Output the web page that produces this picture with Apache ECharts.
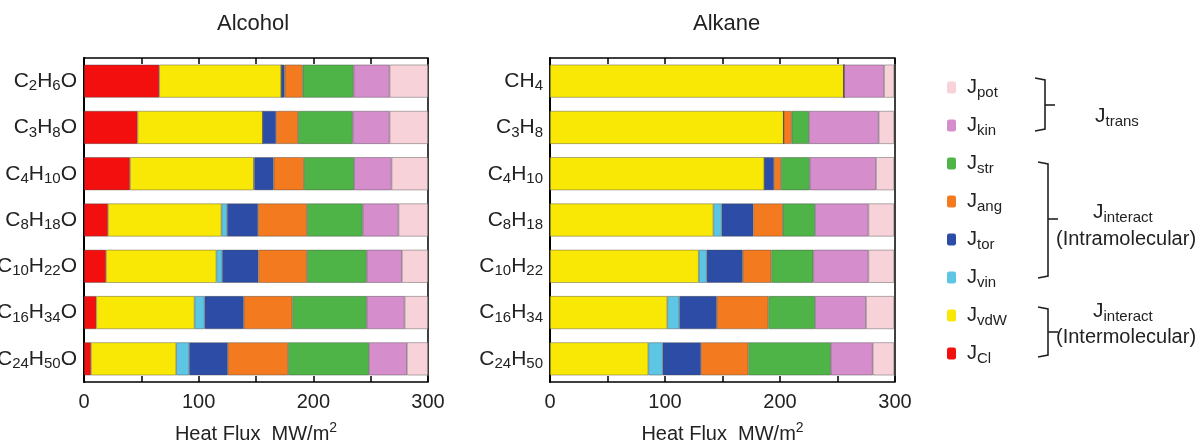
<!DOCTYPE html>
<html><head><meta charset="utf-8">
<script src="https://cdn.jsdelivr.net/npm/echarts@6/dist/echarts.min.js"></script>
<style>html,body{margin:0;padding:0;background:#fff}#c{width:1200px;height:448px}</style>
</head><body><div id="c"></div>
<script>
const alcoholCats = ['C2H6O','C3H8O','C4H10O','C8H18O','C10H22O','C16H34O','C24H50O'];
const alkaneCats  = ['CH4','C3H8','C4H10','C8H18','C10H22','C16H34','C24H50'];
const xTicks = [0, 100, 200, 300];
// component order in the stack (left to right)
const compNames = ['Cl','vdW','vin','tor','ang','str','kin','pot'];
const compColors = ['#f40f0f','#f9e805','#5cc6e4','#2c4ca6','#f47a20','#4fb447','#d68dcc','#f7d3d9'];
// Alcohol values (MW/m^2)
const alcCl  = [65.6, 46.7, 40.1, 20.9, 19.2, 10.7, 6.1];
const alcVdW = [106.5, 109.2, 108.0, 99.0, 96.3, 85.7, 74.3];
const alcVin = [0, 0, 0.5, 4.9, 5.0, 8.7, 11.3];
const alcTor = [2.9, 11.6, 16.8, 27.0, 31.6, 34.2, 33.7];
const alcAng = [15.7, 19.2, 26.4, 42.7, 42.4, 42.4, 52.6];
const alcStr = [44.4, 47.6, 43.8, 48.5, 52.0, 64.8, 70.5];
const alcKin = [31.4, 32.2, 32.6, 31.3, 30.7, 33.1, 33.1];
const alcPot = [33.5, 33.5, 31.8, 25.7, 22.8, 20.4, 18.4];
// Alkane values (MW/m^2)
const alkCl  = [0, 0, 0, 0, 0, 0, 0];
const alkVdW = [255.7, 203.2, 186.4, 142.1, 129.3, 102.0, 85.5];
const alkVin = [0, 0, 0, 7.2, 7.0, 10.5, 12.5];
const alkTor = [0, 0, 8.4, 27.5, 31.3, 32.5, 33.3];
const alkAng = [0, 7.0, 6.1, 25.6, 24.9, 44.9, 41.2];
const alkStr = [0, 15.0, 24.9, 28.1, 36.5, 40.6, 71.6];
const alkKin = [34.8, 60.6, 57.7, 46.4, 47.9, 44.3, 36.5];
const alkPot = [8.7, 13.4, 15.7, 22.3, 22.3, 24.4, 18.6];

const alcData = [alcCl, alcVdW, alcVin, alcTor, alcAng, alcStr, alcKin, alcPot];
const alkData = [alkCl, alkVdW, alkVin, alkTor, alkAng, alkStr, alkKin, alkPot];

const FONT = 'Liberation Sans, Arial, Helvetica, sans-serif';
const subRich = { s: { fontSize: 15, fontFamily: FONT, color: '#222', padding: [10, 0, 0, 0], lineHeight: 15 } };
const supRich = { p: { fontSize: 14, fontFamily: FONT, color: '#222', padding: [0, 0, 12, 0], lineHeight: 14 } };
const chemFmt = v => v.replace(/(\d+)/g, '{s|$1}');

function xAxisPair(gi) {
  const common = {
    type: 'value', gridIndex: gi, min: 0, max: 300, interval: 100,
    splitLine: { show: false },
    minorTick: { show: true, splitNumber: 2, length: 6, lineStyle: { color: '#000', width: 1.5 } },
    axisTick: { show: true, inside: true, length: 6, lineStyle: { color: '#000', width: 1.5 } },
  };
  return [
    Object.assign({}, common, {
      position: 'bottom',
      axisLine: { lineStyle: { color: '#000', width: 2 } },
      axisLabel: { fontSize: 20, fontFamily: FONT, color: '#222', margin: 10,
        formatter: v => xTicks.includes(v) ? String(v) : '' },
      name: 'Heat Flux  MW/m{p|2}', nameLocation: 'middle', nameGap: 42,
      nameTextStyle: { fontSize: 20, fontFamily: FONT, color: '#222', rich: supRich }
    }),
    Object.assign({}, common, {
      position: 'top',
      axisLine: { lineStyle: { color: '#000', width: 1.5 } },
      axisLabel: { show: false }
    })
  ];
}
function yAxisFor(gi, cats) {
  return {
    type: 'category', gridIndex: gi, data: cats, inverse: true,
    axisLine: { lineStyle: { color: '#000', width: 2 } },
    axisTick: { show: false },
    axisLabel: { fontSize: 21, fontFamily: FONT, color: '#222', margin: 7, formatter: chemFmt, rich: subRich }
  };
}
const series = [];
[alcData, alkData].forEach((dataSet, gi) => {
  dataSet.forEach((arr, k) => {
    series.push({
      name: compNames[k], type: 'bar', stack: 'g' + gi,
      xAxisIndex: gi * 2, yAxisIndex: gi,
      barWidth: 33, data: arr,
      itemStyle: { color: compColors[k], borderColor: 'rgba(70,70,70,0.7)', borderWidth: 0.6 },
      emphasis: { disabled: true }, animation: false
    });
  });
});

const chart = echarts.init(document.getElementById('c'), null, { renderer: 'canvas' });
const groupText = (x, y, main, sub) => ({ type: 'text', left: x, top: y,
  style: { text: main + (sub ? '{s|' + sub + '}' : ''), font: '21px ' + FONT, fill: '#222', rich: subRich } });
const bracket = (x, y1, y2) => ({ type: 'polyline', silent: true,
  shape: { points: [[x - 10, y1], [x, y1 + 2], [x, y2 - 2], [x - 10, y2]] },
  style: { stroke: '#222', lineWidth: 1.6, fill: null } });
const stub = (x, y) => ({ type: 'line', shape: { x1: x, y1: y, x2: x + 10, y2: y }, style: { stroke: '#222', lineWidth: 1.6 } });

chart.setOption({
  animation: false,
  title: [
    { text: 'Alcohol', left: 212, top: 8, textStyle: { fontSize: 22, fontWeight: 'normal', fontFamily: FONT, color: '#222' } },
    { text: 'Alkane', left: 688, top: 8, textStyle: { fontSize: 22, fontWeight: 'normal', fontFamily: FONT, color: '#222' } }
  ],
  grid: [
    { left: 84, top: 58, width: 344, height: 324, outerBoundsMode: 'none', containLabel: false, show: true, borderColor: '#000', borderWidth: 1.5, backgroundColor: 'transparent' },
    { left: 550, top: 58, width: 345, height: 324, outerBoundsMode: 'none', containLabel: false, show: true, borderColor: '#000', borderWidth: 1.5, backgroundColor: 'transparent' }
  ],
  xAxis: [...xAxisPair(0), ...xAxisPair(1)],
  yAxis: [yAxisFor(0, alcoholCats), yAxisFor(1, alkaneCats)],
  legend: {
    orient: 'vertical', left: 942, top: 70, itemWidth: 9, itemHeight: 12, itemGap: 13,
    data: compNames.slice().reverse(), selectedMode: false,
    itemStyle: { borderWidth: 0 },
    formatter: n => 'J{s|' + n + '}',
    textStyle: { fontSize: 20, fontFamily: FONT, color: '#222', lineHeight: 22, padding: [0, 0, 0, 6], rich: subRich }
  },
  series: series,
  graphic: [
    bracket(1045, 78, 131), stub(1045, 105),
    bracket(1048, 162, 278), stub(1048, 219),
    bracket(1048, 307, 357), stub(1048, 332),
    groupText(1095, 104, 'J', 'trans'),
    groupText(1093, 200, 'J', 'interact'),
    { type: 'text', left: 1056, top: 229, style: { text: '(Intramolecular)', font: '20px ' + FONT, fill: '#222' } },
    groupText(1093, 299, 'J', 'interact'),
    { type: 'text', left: 1056, top: 327, style: { text: '(Intermolecular)', font: '20px ' + FONT, fill: '#222' } }
  ]
});
</script></body></html>
